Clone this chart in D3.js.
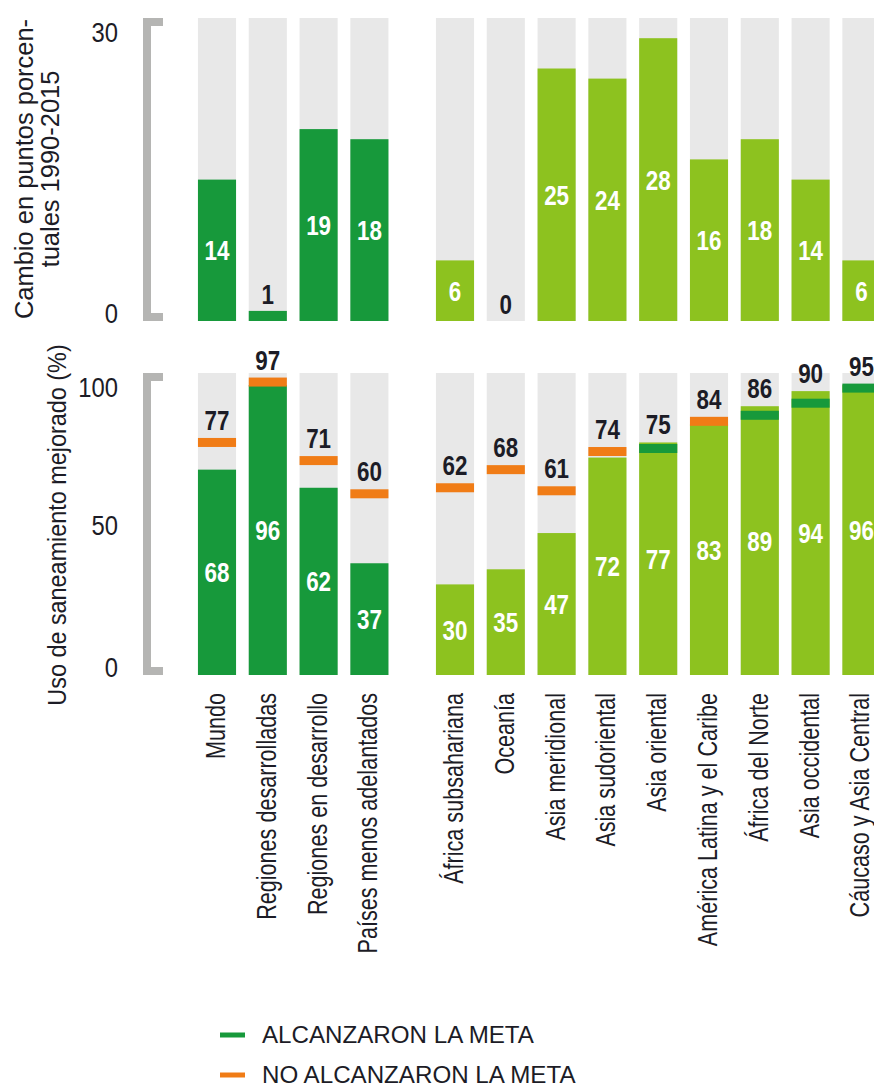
<!DOCTYPE html>
<html>
<head>
<meta charset="utf-8">
<script src="https://cdn.jsdelivr.net/npm/d3@7"></script>
<style>
  body { margin: 0; background: #fff; }
  svg { display: block; font-family: "Liberation Sans", Arial, sans-serif; }
</style>
</head>
<body>
<div id="chart"></div>
<script>
// data
var regions = ["Mundo", "Regiones desarrolladas", "Regiones en desarrollo", "Países menos adelantados",
  "África subsahariana", "Oceanía", "Asia meridional", "Asia sudoriental", "Asia oriental",
  "América Latina y el Caribe", "África del Norte", "Asia occidental", "Cáucaso y Asia Central"];
var worldGroup = regions.slice(0, 4);
var regionGroup = regions.slice(4);
// change in percentage points 1990-2015
var changeValues = [14, 1, 19, 18, 6, 0, 25, 24, 28, 16, 18, 14, 6];
// use of improved sanitation 2015 (%)
var useValues = [68, 96, 62, 37, 30, 35, 47, 72, 77, 83, 89, 94, 96];
// MDG target (%)
var targetValues = [77, 97, 71, 60, 62, 68, 61, 74, 75, 84, 86, 90, 95];
var changeTicks = [0, 30];
var useTicks = [0, 50, 100];
var legendLabels = ["ALCANZARON LA META", "NO ALCANZARON LA META"];

var svgWidth = 874;
var svgHeight = 1088;

var colors = {
  dark: "#17993b",
  lime: "#8dc21f",
  bg: "#e8e8e8",
  orange: "#f07c16",
  axis: "#b5b5b3",
  text: "#1c1c26"
};

var svg = d3.select("#chart")
  .append("svg")
  .attr("width", svgWidth)
  .attr("height", svgHeight);

// two band scales, one per group of bars
var xA = d3.scaleBand().domain(worldGroup).range([191.6, 394.8]).paddingInner(0.25).paddingOuter(0.125);
var xB = d3.scaleBand().domain(regionGroup).range([429.6, 886.8]).paddingInner(0.25).paddingOuter(0.125);
var bw = xA.bandwidth();
function xPos(name) {
  return worldGroup.indexOf(name) >= 0 ? xA(name) : xB(name);
}
function barColor(name) {
  return worldGroup.indexOf(name) >= 0 ? colors.dark : colors.lime;
}

var yTop = d3.scaleLinear().domain([0, 30]).range([321, 18]);
var yBot = d3.scaleLinear().domain([0, 100]).range([675, 373]);

// text with a horizontal squeeze, to mimic the condensed face
function addText(parent, x, y, str, o) {
  o = o || {};
  return parent.append("text")
    .attr("transform", "translate(" + x + "," + y + ") rotate(" + (o.rotate || 0) + ") scale(" + (o.sx || 1) + ",1)")
    .attr("text-anchor", o.anchor || "start")
    .attr("font-size", o.size || 26)
    .attr("font-weight", o.weight || "normal")
    .attr("fill", o.fill || colors.text)
    .attr("dy", o.dy || 0)
    .text(str);
}

// bracket-style axis with numbers
function drawAxis(scale, ticks) {
  var d = scale.domain();
  var top = scale(d[1]), bottom = scale(d[0]);
  var g = svg.append("g").attr("class", "axis");
  g.append("rect").attr("x", 143).attr("y", top).attr("width", 8).attr("height", bottom - top).attr("fill", colors.axis);
  g.append("rect").attr("x", 143).attr("y", top).attr("width", 20).attr("height", 8).attr("fill", colors.axis);
  g.append("rect").attr("x", 143).attr("y", bottom - 8).attr("width", 20).attr("height", 8).attr("fill", colors.axis);
  ticks.forEach(function(t) {
    var dy = t === d[1] ? 24 : (t === d[0] ? 2 : 11);
    addText(g, 118, scale(t) + dy, t, { anchor: "end", size: 28, sx: 0.85 });
  });
}

drawAxis(yTop, changeTicks);
drawAxis(yBot, useTicks);

// axis titles
addText(svg, 33, 169, "Cambio en puntos porcen-", { rotate: -90, anchor: "middle", size: 26, sx: 0.98 });
addText(svg, 59, 169, "tuales 1990-2015", { rotate: -90, anchor: "middle", size: 26, sx: 0.98 });
addText(svg, 66, 525, "Uso de saneamiento mejorado (%)", { rotate: -90, anchor: "middle", size: 26, sx: 0.9 });

// top panel: change 1990-2015
var topData = regions.map(function(r, i) { return { name: r, value: changeValues[i] }; });
var topG = svg.append("g");
topG.selectAll(".bg").data(topData).enter().append("rect")
  .attr("x", d => xPos(d.name))
  .attr("y", yTop(30))
  .attr("width", bw)
  .attr("height", yTop(0) - yTop(30))
  .attr("fill", colors.bg);
topG.selectAll(".bar").data(topData).enter().append("rect")
  .attr("x", d => xPos(d.name))
  .attr("y", d => yTop(d.value))
  .attr("width", bw)
  .attr("height", d => yTop(0) - yTop(d.value))
  .attr("fill", d => barColor(d.name));
topData.forEach(function(d) {
  var cx = xPos(d.name) + bw / 2;
  if (d.value >= 3) {
    var mid = (yTop(d.value) + yTop(0)) / 2;
    addText(topG, cx, mid + 10, d.value, { anchor: "middle", size: 28, weight: "bold", fill: "#fff", sx: 0.8 });
  } else {
    addText(topG, cx, yTop(d.value) - 7, d.value, { anchor: "middle", size: 28, weight: "bold", sx: 0.8 });
  }
});

// bottom panel: sanitation use and target
var botData = regions.map(function(r, i) {
  return { name: r, value: useValues[i], target: targetValues[i] };
});
var botG = svg.append("g");
botG.selectAll(".bg").data(botData).enter().append("rect")
  .attr("x", d => xPos(d.name))
  .attr("y", yBot(100))
  .attr("width", bw)
  .attr("height", yBot(0) - yBot(100))
  .attr("fill", colors.bg);
botG.selectAll(".bar").data(botData).enter().append("rect")
  .attr("x", d => xPos(d.name))
  .attr("y", d => yBot(d.value))
  .attr("width", bw)
  .attr("height", d => yBot(0) - yBot(d.value))
  .attr("fill", d => barColor(d.name));
botG.selectAll(".target").data(botData).enter().append("rect")
  .attr("x", d => xPos(d.name))
  .attr("y", d => yBot(d.target) - 4.5)
  .attr("width", bw)
  .attr("height", 9)
  .attr("fill", d => d.value >= d.target ? colors.dark : colors.orange);
botData.forEach(function(d) {
  var cx = xPos(d.name) + bw / 2;
  var mid = (yBot(d.value) + yBot(0)) / 2;
  addText(botG, cx, mid + 10, d.value, { anchor: "middle", size: 28, weight: "bold", fill: "#fff", sx: 0.8 });
  var topEdge = Math.min(yBot(d.value), yBot(d.target) - 4.5);
  addText(botG, cx, topEdge - 8, d.target, { anchor: "middle", size: 28, weight: "bold", sx: 0.8 });
});

// category labels
regions.forEach(function(r) {
  addText(svg, xPos(r) + bw / 2 + 8, 693, r, { rotate: -90, anchor: "end", size: 27, sx: 0.8 });
});

// legend
var legend = svg.append("g");
legendLabels.forEach(function(l, i) {
  var y = 1035 + i * 40;
  legend.append("line")
    .attr("x1", 220).attr("x2", 245)
    .attr("y1", y).attr("y2", y)
    .attr("stroke", i === 0 ? colors.dark : colors.orange)
    .attr("stroke-width", 5);
  addText(legend, 262, y + 8, l, { size: 23, sx: 1.05 });
});
</script>
</body>
</html>
